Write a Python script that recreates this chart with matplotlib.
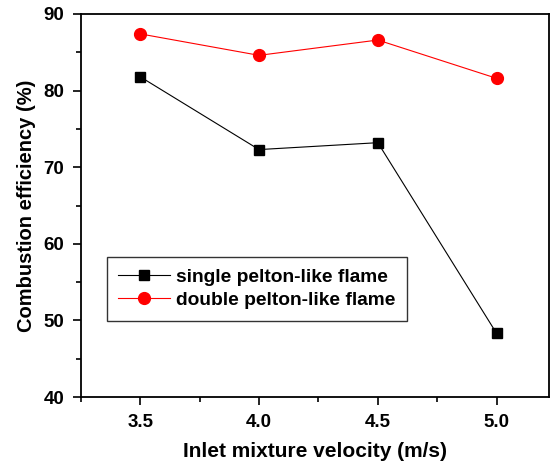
import matplotlib.pyplot as plt
from matplotlib.ticker import MultipleLocator

velocity = [3.5, 4.0, 4.5, 5.0]
single_eff = [81.8, 72.3, 73.2, 48.3]
double_eff = [87.4, 84.6, 86.6, 81.6]

plt.rcParams["font.family"] = ["Liberation Sans", "DejaVu Sans"]
plt.rcParams["font.weight"] = "bold"

fig = plt.figure(figsize=(5.5, 4.66), dpi=100)
ax = fig.add_axes([0.147, 0.148, 0.851, 0.822])

ax.plot(velocity, single_eff, color="black", marker="s", markersize=7,
        linewidth=0.8, label="single pelton-like flame")
ax.plot(velocity, double_eff, color="red", marker="o", markersize=8.5,
        linewidth=0.8, label="double pelton-like flame")

ax.set_xlim(3.25, 5.22)
ax.set_ylim(40, 90)
ax.xaxis.set_major_locator(MultipleLocator(0.5))
ax.xaxis.set_minor_locator(MultipleLocator(0.25))
ax.yaxis.set_major_locator(MultipleLocator(10))
ax.yaxis.set_minor_locator(MultipleLocator(5))
ax.tick_params(which="both", direction="out", width=1.2, labelsize=13.5, pad=6)
ax.tick_params(which="major", length=6)
ax.tick_params(which="minor", length=3.5)
for s in ax.spines.values():
    s.set_linewidth(1.3)

ax.set_xlabel("Inlet mixture velocity (m/s)", fontsize=15, fontweight="bold", labelpad=8)
ax.set_ylabel("Combustion efficiency (%)", fontsize=14.5, fontweight="bold", labelpad=5)

leg = ax.legend(loc="upper left", bbox_to_anchor=(0.0556, 0.3655), borderaxespad=0,
                fontsize=13.8, fancybox=False, edgecolor="black", handlelength=2.7,
                handletextpad=0.3, borderpad=0.6, labelspacing=0.3)
leg.get_frame().set_linewidth(1.0)

fig.savefig("out.png", dpi=100)
